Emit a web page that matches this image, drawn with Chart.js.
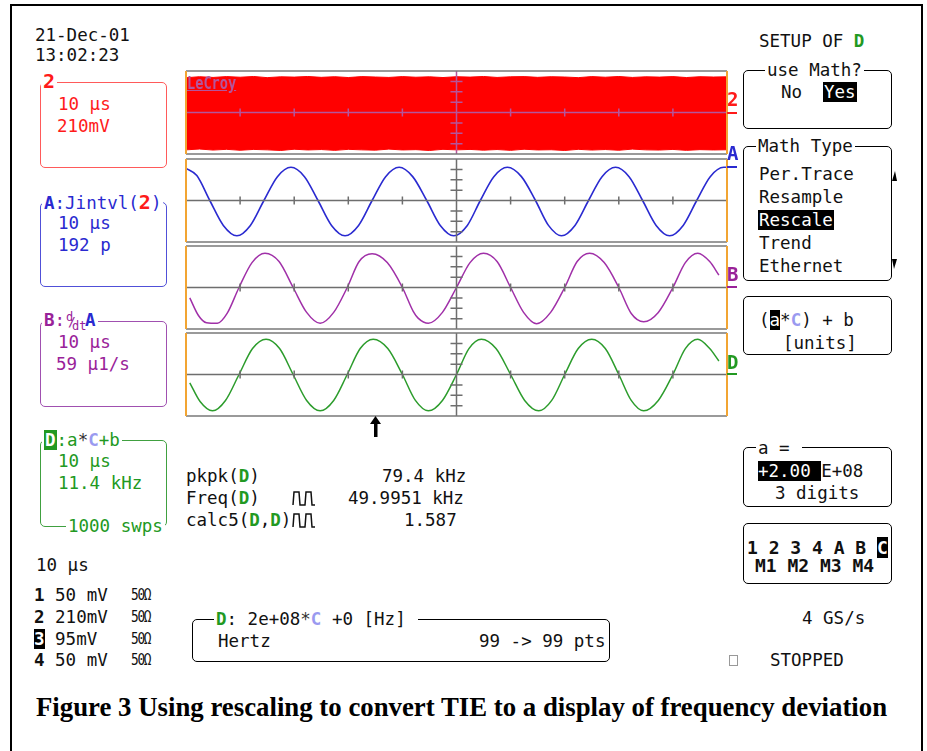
<!DOCTYPE html>
<html>
<head>
<meta charset="utf-8">
<script src="https://cdn.jsdelivr.net/npm/chart.js@4"></script>
<style>
  body { margin: 0; background: #fff; width: 927px; height: 751px; overflow: hidden; position: relative; }
  .frame { position: absolute; left: 10px; top: 4px; width: 913px; height: 770px; border: 2px solid #000; box-sizing: border-box; }
  .t { position: absolute; font-family: 'DejaVu Sans Mono', monospace; font-size: 17.5px; line-height: 20px; white-space: pre; color: #111; }
  .box { position: absolute; border: 1.5px solid #000; border-radius: 5px; box-sizing: border-box; }
  .lbl { background: #fff; padding: 0 2px; }
  .inv { background: #000; color: #fff; }
  .b { font-weight: bold; }
  .ohm { font-size: 15px; letter-spacing: -1.5px; transform: scaleX(0.85); transform-origin: left center; }
  canvas { position: absolute; }
  .mark { position: absolute; height: 2px; width: 10px; }
  .cap { position: absolute; left: 36px; top: 692px; font-family: 'Liberation Serif', serif; font-weight: bold; font-size: 26.8px; white-space: pre; color: #000; }
</style>
</head>
<body>
<div class="frame"></div>

<!-- left column -->
<div class="t" style="left:35px;top:25px">21-Dec-01</div>
<div class="t" style="left:35px;top:45px">13:02:23</div>

<div class="box" style="left:40px;top:82px;width:127px;height:86px;border-color:#ff5a5a"></div>
<div class="t lbl b" style="left:41px;top:71px;color:#ff1a1a;font-size:20px">2</div>
<div class="t" style="left:58px;top:94px;color:#ff1a1a">10 µs</div>
<div class="t" style="left:57px;top:116px;color:#ff1a1a">210mV</div>

<div class="box" style="left:40px;top:202px;width:127px;height:85px;border-color:#5050d8"></div>
<div class="t lbl" style="left:42px;top:192px;color:#2a2ad0"><b>A</b>:Jintvl(<b style="color:#ff1a1a;font-size:20px">2</b>)</div>
<div class="t" style="left:58px;top:213px;color:#2a2ad0">10 µs</div>
<div class="t" style="left:58px;top:235px;color:#2a2ad0">192 p</div>

<div class="box" style="left:40px;top:321px;width:127px;height:86px;border-color:#a050b0"></div>
<div class="t lbl" style="left:42px;top:310px;color:#992299"><b>B</b>:<span style="display:inline-block;position:relative;width:20px;height:20px;vertical-align:top"><span style="position:absolute;left:1px;top:-3px;font-size:12px">d</span><span style="position:absolute;left:3px;top:2px;font-size:13px">/</span><span style="position:absolute;left:7px;top:6px;font-size:12px">dt</span></span><b style="color:#2a2ad0">A</b></div>
<div class="t" style="left:58px;top:332px;color:#992299">10 µs</div>
<div class="t" style="left:56px;top:354px;color:#992299">59 µ1/s</div>

<div class="box" style="left:40px;top:440px;width:127px;height:87px;border-color:#40a040"></div>
<div class="t lbl" style="left:42px;top:430px;color:#229922"><b style="background:#229922;color:#fff;padding:0 1px">D</b>:a<span style="color:#333">*</span><b style="color:#9a9af0">C</b>+b</div>
<div class="t" style="left:58px;top:451px;color:#229922">10 µs</div>
<div class="t" style="left:58px;top:473px;color:#229922">11.4 kHz</div>
<div class="t lbl" style="left:66px;top:516px;color:#229922">1000 swps</div>

<div class="t" style="left:36px;top:555px">10 µs</div>
<div class="t" style="left:34px;top:585px"><b>1</b> 50 mV</div>
<div class="t" style="left:34px;top:607px"><b>2</b> 210mV</div>
<div class="t" style="left:34px;top:629px"><b class="inv">3</b> 95mV</div>
<div class="t" style="left:34px;top:650px"><b>4</b> 50 mV</div>
<div class="t ohm" style="left:131px;top:585px">50Ω</div>
<div class="t ohm" style="left:131px;top:607px">50Ω</div>
<div class="t ohm" style="left:131px;top:629px">50Ω</div>
<div class="t ohm" style="left:131px;top:650px">50Ω</div>

<!-- trace panels -->
<canvas id="c2" width="543" height="85" style="left:185px;top:70px"></canvas>
<canvas id="cA" width="543" height="85" style="left:185px;top:158px"></canvas>
<canvas id="cB" width="543" height="85" style="left:185px;top:245px"></canvas>
<canvas id="cD" width="543" height="85" style="left:185px;top:332px"></canvas>
<div class="t b" style="left:187px;top:73px;color:#b4559c;font-size:17px;text-decoration:underline;transform:scaleX(0.8);transform-origin:left center">LeCroy</div>

<!-- trace markers on the right edge -->
<div class="t b" style="left:727px;top:89px;color:#ff1a1a;font-size:19px">2</div>
<div class="mark" style="left:727px;top:112px;background:#ff1a1a"></div>
<div class="t b" style="left:727px;top:143px;color:#2a2ad0;font-size:19px">A</div>
<div class="mark" style="left:727px;top:166px;background:#2a2ad0"></div>
<div class="t b" style="left:727px;top:264px;color:#992299;font-size:19px">B</div>
<div class="mark" style="left:727px;top:286px;background:#992299"></div>
<div class="t b" style="left:727px;top:352px;color:#229922;font-size:19px">D</div>
<div class="mark" style="left:727px;top:373px;background:#229922"></div>

<svg style="position:absolute;left:369px;top:415px" width="13" height="23">
  <polygon points="6.5,1 1,9 12,9" fill="#000"/>
  <rect x="5" y="8" width="3.5" height="14" fill="#000"/>
</svg>

<!-- measurements -->
<div class="t" style="left:186px;top:466px">pkpk(<b style="color:#229922">D</b>)</div>
<div class="t" style="left:382px;top:466px">79.4 kHz</div>
<div class="t" style="left:186px;top:488px">Freq(<b style="color:#229922">D</b>)</div>
<div class="t" style="left:348px;top:488px">49.9951 kHz</div>
<div class="t" style="left:186px;top:510px">calc5(<b style="color:#229922">D</b>,<b style="color:#229922">D</b>)</div>
<div class="t" style="left:404px;top:510px">1.587</div>
<svg style="position:absolute;left:292px;top:490px" width="24" height="16"><polyline points="1,15 2,2 7,2 8,15 13,15 14,2 19,2 20,15 23,15" fill="none" stroke="#111" stroke-width="1.5"/></svg>
<svg style="position:absolute;left:292px;top:512px" width="24" height="16"><polyline points="1,15 2,2 7,2 8,15 13,15 14,2 19,2 20,15 23,15" fill="none" stroke="#111" stroke-width="1.5"/></svg>

<div class="box" style="left:192px;top:619px;width:418px;height:43px"></div>
<div class="t lbl" style="left:214px;top:609px;padding-right:12px"><b style="color:#229922">D</b>: 2e+08<span style="color:#333">*</span><b style="color:#9a9af0">C</b> +0 [Hz]</div>
<div class="t" style="left:218px;top:631px">Hertz</div>
<div class="t" style="left:479px;top:631px">99 -> 99 pts</div>

<!-- right column -->
<div class="t" style="left:759px;top:31px">SETUP OF <b style="color:#229922">D</b></div>

<div class="box" style="left:743px;top:70px;width:149px;height:59px"></div>
<div class="t lbl" style="left:765px;top:60px">use Math?</div>
<div class="t" style="left:781px;top:82px">No</div>
<div class="t inv" style="left:823px;top:82px;padding:0 1px">Yes</div>

<div class="box" style="left:743px;top:146px;width:149px;height:135px"></div>
<div class="t lbl" style="left:756px;top:136px">Math Type</div>
<div class="t" style="left:759px;top:164px">Per.Trace</div>
<div class="t" style="left:759px;top:187px">Resample</div>
<div class="t inv" style="left:758px;top:210px;padding:0 1px">Rescale</div>
<div class="t" style="left:759px;top:233px">Trend</div>
<div class="t" style="left:759px;top:256px">Ethernet</div>
<svg style="position:absolute;left:891px;top:170px" width="8" height="12"><polygon points="1,11 4,1 6,11" fill="#000"/></svg>
<svg style="position:absolute;left:891px;top:258px" width="8" height="12"><polygon points="1,1 6,1 3,11" fill="#000"/></svg>

<div class="box" style="left:743px;top:296px;width:149px;height:59px"></div>
<div class="t" style="left:759px;top:310px">(<span class="inv">a</span>*<b style="color:#9a9af0">C</b>) + b</div>
<div class="t" style="left:783px;top:333px">[units]</div>

<div class="box" style="left:743px;top:447px;width:149px;height:60px"></div>
<div class="t lbl" style="left:756px;top:438px">a = </div>
<div class="t" style="left:758px;top:461px"><span class="inv">+2.00 </span>E+08</div>
<div class="t" style="left:775px;top:483px">3 digits</div>

<div class="box" style="left:743px;top:523px;width:149px;height:61px"></div>
<div class="t b" style="left:747px;top:538px;font-size:18px">1 2 3 4 A B <span class="inv">C</span></div>
<div class="t b" style="left:755px;top:556px;font-size:18px">M1 M2 M3 M4</div>

<div class="t" style="left:802px;top:608px">4 GS/s</div>
<div style="position:absolute;left:729px;top:655px;width:7px;height:9px;border:1px solid #999"></div>
<div class="t" style="left:770px;top:650px">STOPPED</div>

<div class="cap">Figure 3 Using rescaling to convert TIE to a display of frequency deviation</div>

<script>
// Channel 2: dense red band, envelope (divisions)
const bandTime = [0, 2.5, 5, 7.5, 10, 12.5, 15, 17.5, 20, 22.5, 25, 27.5, 30, 32.5, 35, 37.5, 40, 42.5, 45, 47.5, 50,
                  52.5, 55, 57.5, 60, 62.5, 65, 67.5, 70, 72.5, 75, 77.5, 80, 82.5, 85, 87.5, 90, 92.5, 95, 97.5, 100];
const bandTop = [3.35, 3.45, 3.38, 3.46, 3.40, 3.47, 3.36, 3.44, 3.41, 3.47, 3.39, 3.45, 3.37, 3.46, 3.42, 3.38, 3.46, 3.40, 3.44, 3.37, 3.45,
                 3.41, 3.47, 3.38, 3.44, 3.46, 3.39, 3.45, 3.42, 3.36, 3.46, 3.40, 3.47, 3.38, 3.44, 3.41, 3.46, 3.37, 3.45, 3.42, 3.44];
const bandBottom = [-3.60, -3.52, -3.62, -3.55, -3.64, -3.56, -3.60, -3.66, -3.54, -3.61, -3.57, -3.65, -3.55, -3.60, -3.63, -3.53, -3.61, -3.58, -3.66, -3.55, -3.60,
                    -3.56, -3.63, -3.57, -3.65, -3.54, -3.61, -3.59, -3.66, -3.55, -3.62, -3.57, -3.64, -3.53, -3.60, -3.62, -3.56, -3.65, -3.58, -3.61, -3.59];

// Trace A: Jintvl(2)
const timeA = [0, 2.0, 4.4, 6.9, 9.4, 11.9, 14.4, 16.9, 19.4, 21.9, 24.4, 26.9, 29.4, 31.9, 34.4, 36.9, 39.4, 41.9, 44.5, 47.0, 49.5,
               52.0, 54.4, 56.9, 59.4, 62.0, 64.6, 67.0, 69.4, 71.9, 74.4, 76.9, 79.4, 81.9, 84.4, 86.9, 89.4, 91.9, 94.4, 96.9, 99.4, 100];
const traceA = [3.1, 2.4, 0, -2.4, -3.4, -2.4, 0, 2.3, 3.2, 2.3, 0, -2.4, -3.4, -2.4, 0, 2.3, 3.2, 2.3, 0, -2.4, -3.4,
                -2.4, 0, 2.3, 3.2, 2.3, 0, -2.4, -3.4, -2.4, 0, 2.3, 3.2, 2.3, 0, -2.4, -3.4, -2.4, 0, 2.3, 3.2, 3.2];

// Trace B: d/dt A
const timeB = [0.7, 2.3, 3.8, 5.8, 7.6, 9.8, 12.2, 14.6, 17.2, 19.8, 22.3, 24.8, 27.3, 29.8, 32.0, 34.4, 37.2, 40.0, 42.0, 42.9, 44.8,
               47.4, 50.0, 52.5, 55.0, 57.5, 60.0, 62.4, 64.8, 67.4, 70.0, 72.3, 74.6, 77.3, 80.0, 82.3, 84.6, 87.3, 90.0, 92.3, 94.6, 96.8, 98.5];
const traceB = [-1.0, -2.7, -3.4, -3.45, -2.5, 0, 2.4, 3.3, 2.5, 0, -2.4, -3.45, -2.4, 0, 2.5, 3.25, 2.4, 0, -2.3, -2.95, -3.45,
                -2.4, 0, 2.4, 3.3, 2.5, 0, -2.4, -3.5, -2.4, 0, 2.5, 3.3, 2.4, 0, -2.5, -3.3, -2.4, 0, 2.4, 3.3, 2.5, 1.2];

// Trace D: a*C + b
const timeD = [0.7, 2.6, 4.9, 7.3, 9.8, 12.3, 14.8, 17.3, 19.8, 22.3, 24.8, 27.3, 29.8, 32.2, 34.6, 37.3, 40.0, 42.4, 44.8, 47.4, 50.0,
               52.3, 54.6, 57.3, 60.0, 62.6, 65.2, 67.6, 70.0, 72.5, 75.0, 77.5, 80.0, 82.3, 84.6, 87.3, 90.0, 92.3, 94.6, 96.8, 98.5];
const traceD = [-0.8, -2.6, -3.5, -2.5, 0, 2.5, 3.4, 2.5, 0, -2.5, -3.5, -2.5, 0, 2.5, 3.4, 2.5, 0, -2.5, -3.5, -2.5, 0,
                2.5, 3.4, 2.5, 0, -2.5, -3.5, -2.5, 0, 2.5, 3.4, 2.5, 0, -2.5, -3.5, -2.5, 0, 2.5, 3.4, 2.5, 1.3];

function pts(xs, ys) {
    return xs.map((x, i) => ({ x: x, y: ys[i] }));
}

// scope graticule: centre cross with division ticks, panel frame, orange side edges
const graticule = {
    id: 'graticule',
    afterDatasetsDraw(chart, args, opts) {
        const { ctx, chartArea: a, scales: { x, y } } = chart;
        const cx = x.getPixelForValue(50);
        const cy = y.getPixelForValue(0);
        ctx.save();
        ctx.strokeStyle = opts.color;
        ctx.lineWidth = 1.5;
        ctx.beginPath();
        ctx.moveTo(a.left, cy); ctx.lineTo(a.right, cy);
        ctx.moveTo(cx, a.top); ctx.lineTo(cx, a.bottom);
        for (let t = 10; t < 100; t += 10) {
            const px = x.getPixelForValue(t);
            ctx.moveTo(px, cy - 4); ctx.lineTo(px, cy + 4);
        }
        for (let v = -3; v <= 3; v++) {
            if (v === 0) continue;
            const py = y.getPixelForValue(v);
            ctx.moveTo(cx - 6, py); ctx.lineTo(cx + 6, py);
        }
        ctx.stroke();

        ctx.strokeStyle = '#7a7a7a';
        ctx.lineWidth = 1.5;
        ctx.beginPath();
        ctx.moveTo(a.left, a.top); ctx.lineTo(a.right, a.top);
        ctx.moveTo(a.left, a.bottom); ctx.lineTo(a.right, a.bottom);
        ctx.stroke();

        ctx.strokeStyle = '#f2a533';
        ctx.lineWidth = 2;
        ctx.beginPath();
        ctx.moveTo(a.left, a.top); ctx.lineTo(a.left, a.bottom);
        ctx.moveTo(a.right, a.top); ctx.lineTo(a.right, a.bottom);
        ctx.stroke();
        ctx.restore();
    }
};

function makePanel(id, datasets, gridColor) {
    return new Chart(document.getElementById(id), {
        type: 'line',
        data: { datasets: datasets },
        options: {
            responsive: false,
            animation: false,
            devicePixelRatio: 1,
            layout: { padding: 1 },
            elements: { point: { radius: 0 } },
            scales: {
                x: { type: 'linear', min: 0, max: 100, display: false },
                y: { min: -4, max: 4, display: false }
            },
            plugins: {
                legend: { display: false },
                tooltip: { enabled: false },
                graticule: { color: gridColor }
            }
        },
        plugins: [graticule]
    });
}

makePanel('c2', [
    { data: pts(bandTime, bandTop), borderColor: '#ff0000', borderWidth: 1, fill: false },
    { data: pts(bandTime, bandBottom), borderColor: '#ff0000', borderWidth: 1, backgroundColor: '#ff0000', fill: '-1' }
], '#b4559c');

makePanel('cA', [
    { data: pts(timeA, traceA), borderColor: '#2a2ad0', borderWidth: 1.6, cubicInterpolationMode: 'monotone' }
], '#6e6e6e');

makePanel('cB', [
    { data: pts(timeB, traceB), borderColor: '#a030a8', borderWidth: 1.5, cubicInterpolationMode: 'monotone' }
], '#6e6e6e');

makePanel('cD', [
    { data: pts(timeD, traceD), borderColor: '#2c9c2c', borderWidth: 1.5, cubicInterpolationMode: 'monotone' }
], '#6e6e6e');
</script>
</body>
</html>
